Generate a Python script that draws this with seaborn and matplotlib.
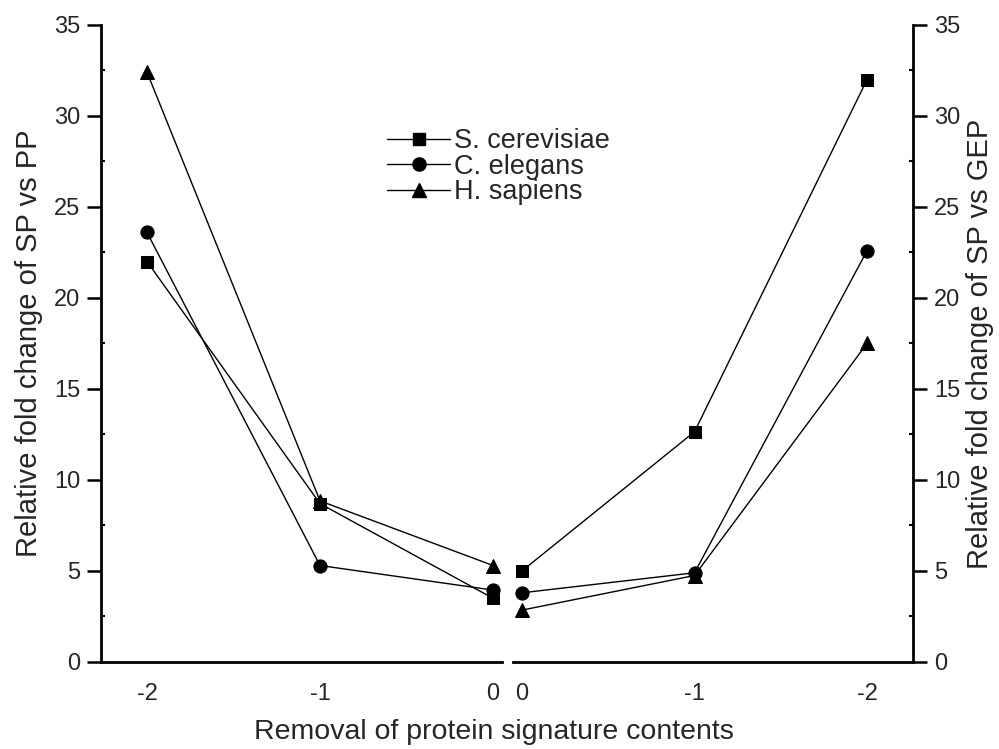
import matplotlib
matplotlib.use("Agg")
import matplotlib.pyplot as plt
from matplotlib.ticker import MultipleLocator
from matplotlib.lines import Line2D
import seaborn as sns
import pandas as pd

sns.set_style("white")
plt.rcParams["font.family"] = ["Liberation Sans", "DejaVu Sans"]

species = ["S. cerevisiae", "C. elegans", "H. sapiens"]
removal = [-2, -1, 0]

# Fold change of SP vs PP (left panel)
sp_vs_pp_scer = [22.0, 8.7, 3.5]
sp_vs_pp_cele = [23.6, 5.3, 3.95]
sp_vs_pp_hsap = [32.4, 8.85, 5.3]

# Fold change of SP vs GEP (right panel)
sp_vs_gep_scer = [32.0, 12.65, 5.0]
sp_vs_gep_cele = [22.6, 4.9, 3.8]
sp_vs_gep_hsap = [17.5, 4.75, 2.85]

markers = {"S. cerevisiae": "s", "C. elegans": "o", "H. sapiens": "^"}
msize = {"S. cerevisiae": 8.5, "C. elegans": 9.5, "H. sapiens": 10.5}


def long_frame(a, b, c):
    rows = []
    for name, vals in zip(species, (a, b, c)):
        for x, y in zip(removal, vals):
            rows.append({"removal": x, "fold": y, "species": name})
    return pd.DataFrame(rows)


left_df = long_frame(sp_vs_pp_scer, sp_vs_pp_cele, sp_vs_pp_hsap)
right_df = long_frame(sp_vs_gep_scer, sp_vs_gep_cele, sp_vs_gep_hsap)

fig = plt.figure(figsize=(9.99, 7.49), dpi=100)
ax1 = fig.add_axes([0.1011, 0.1162, 0.4014, 0.8505])
ax2 = fig.add_axes([0.5135, 0.1162, 0.4004, 0.8505])

for ax, df in ((ax1, left_df), (ax2, right_df)):
    for name in species:
        sub = df[df["species"] == name]
        sns.lineplot(data=sub, x="removal", y="fold", ax=ax, color="black",
                     linewidth=1.0, marker=markers[name], markersize=msize[name],
                     markeredgecolor="black", markerfacecolor="black",
                     legend=False, zorder=3)

ax1.set_xlim(-2.266, 0.052)
ax2.set_xlim(0.052, -2.266)
for ax in (ax1, ax2):
    ax.set_ylim(0, 35)
    ax.yaxis.set_major_locator(MultipleLocator(5))
    ax.yaxis.set_minor_locator(MultipleLocator(2.5))
    ax.set_xticks(removal)
    ax.set_xticklabels([str(v) for v in removal])
    ax.set_xlabel("")
    ax.set_facecolor("none")
    for s in ax.spines.values():
        s.set_linewidth(2.0)
        s.set_color("black")
    ax.spines["top"].set_visible(False)
    ax.tick_params(axis="both", which="major", direction="out", length=10,
                   width=1.8, labelsize=17, color="black", pad=5)
    ax.tick_params(axis="y", which="minor", direction="in", length=3,
                   width=1.5, color="black")

ax1.spines["right"].set_visible(False)
ax2.spines["left"].set_visible(False)
ax2.yaxis.tick_right()
ax2.yaxis.set_label_position("right")
ax2.tick_params(axis="y", which="both", left=False, right=True)
ax1.tick_params(axis="y", which="both", left=True, right=False)

ax1.set_ylabel("Relative fold change of SP vs PP", fontsize=21, labelpad=8)
ax2.set_ylabel("Relative fold change of SP vs GEP", fontsize=21, labelpad=4)
fig.text(0.494, 0.006, "Removal of protein signature contents", ha="center",
         va="bottom", fontsize=20.5)

handles = [Line2D([0], [0], color="black", linewidth=1.0, marker=markers[n],
                  markersize=msize[n], markerfacecolor="black",
                  markeredgecolor="black") for n in species]
fig.legend(handles, species, loc="upper left", bbox_to_anchor=(0.377, 0.843),
           frameon=False, fontsize=19.5, handlelength=2.3, handletextpad=0.15,
           labelspacing=-0.02, borderaxespad=0)

fig.savefig("out.png", dpi=100)
